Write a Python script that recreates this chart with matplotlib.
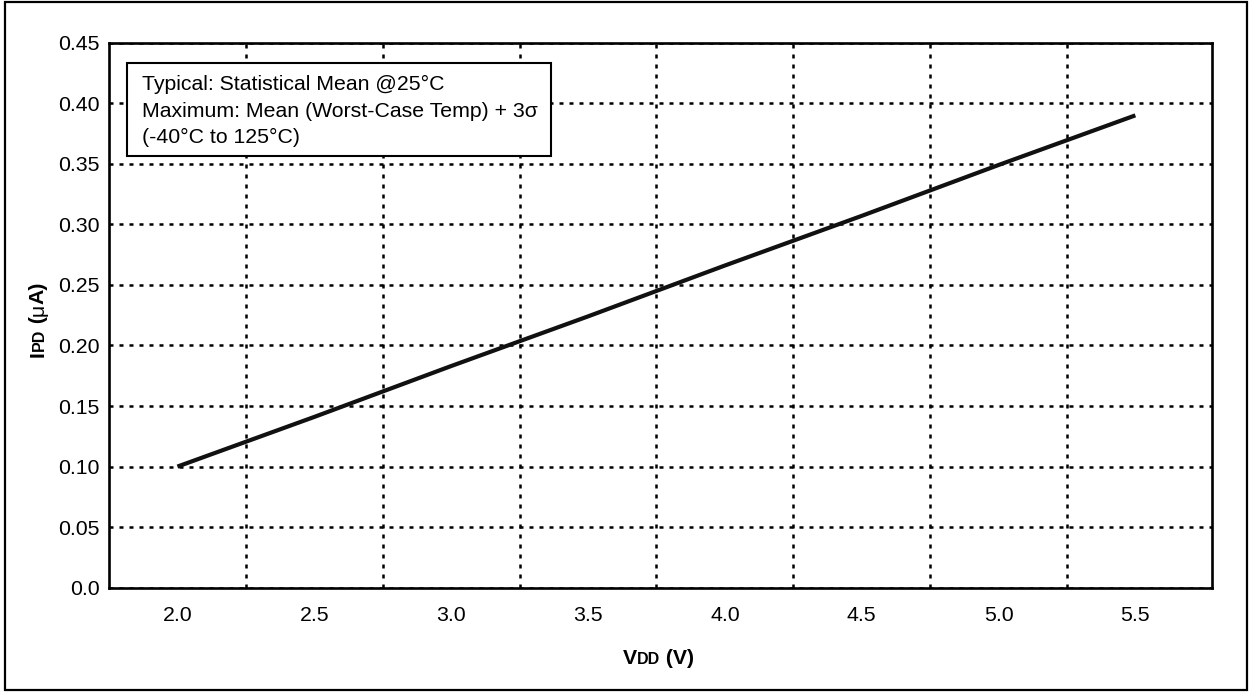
import matplotlib
matplotlib.use('Agg')
import matplotlib.pyplot as plt
from matplotlib.patches import Rectangle

plt.rcParams['font.family'] = ['Liberation Sans', 'DejaVu Sans']

# data
vdd = [2.0, 2.5, 3.0, 3.5, 4.0, 4.5, 5.0, 5.5]
ipd = [0.100, 0.141, 0.183, 0.224, 0.266, 0.307, 0.349, 0.390]
xtick_vals = [2.0, 2.5, 3.0, 3.5, 4.0, 4.5, 5.0, 5.5]
xgrid_vals = [2.25, 2.75, 3.25, 3.75, 4.25, 4.75, 5.25]
ytick_vals = [0.0, 0.05, 0.10, 0.15, 0.20, 0.25, 0.30, 0.35, 0.40, 0.45]
ytick_labels = ["0.0", "0.05", "0.10", "0.15", "0.20", "0.25", "0.30", "0.35", "0.40", "0.45"]
note_lines = ["Typical: Statistical Mean @25°C",
              "Maximum: Mean (Worst-Case Temp) + 3σ",
              "(-40°C to 125°C)"]

FS = 15.3
W, H = 1250, 692
fig = plt.figure(figsize=(W / 100, H / 100), dpi=100)
ax = fig.add_axes([109 / W, 1 - 587.7 / H, (1212 - 109) / W, (587.7 - 42.7) / H])

ax.plot(vdd, ipd, color='#111111', lw=3, solid_capstyle='butt', zorder=3)

ax.set_xlim(1.75, 5.78)
ax.set_ylim(0, 0.45)
ax.set_xticks(xtick_vals)
ax.set_xticklabels(["%.1f" % v for v in xtick_vals])
ax.set_xticks(xgrid_vals, minor=True)
ax.set_yticks(ytick_vals)
ax.set_yticklabels(ytick_labels)
ax.tick_params(axis='both', which='both', length=0, labelsize=FS, colors='black')
ax.tick_params(axis='x', pad=13.5)
ax.tick_params(axis='y', pad=7)

dots = (0, (1.6, 2.4))
ax.grid(False)
ax.xaxis.grid(True, which='minor', color='black', lw=1.8, linestyle=dots)
ax.yaxis.grid(True, which='major', color='black', lw=1.8, linestyle=dots)
ax.set_axisbelow(True)
for s in ax.spines.values():
    s.set_linewidth(1.9)
    s.set_color('black')

# note box
fig.patches.append(Rectangle((127 / W, 1 - 156 / H), (551 - 127) / W, (156 - 62.7) / H,
                             transform=fig.transFigure, fill=True, facecolor='white',
                             edgecolor='black', lw=1.5, zorder=5))
for i, line in enumerate(note_lines):
    fig.text(141.7 / W, 1 - (90 + i * 26.7) / H, line, fontsize=FS,
             ha='left', va='baseline', zorder=6)


def chain(pieces, x, y, rotation=0):
    # pieces drawn one after the other, sharing one baseline (figure pixels)
    prev = None
    for txt, size, weight in pieces:
        if prev is None:
            prev = ax.annotate(txt, xy=(x, y), xycoords='figure pixels', fontsize=size,
                               fontweight=weight, ha='left', va='baseline',
                               rotation=rotation, rotation_mode='anchor',
                               annotation_clip=False)
        elif rotation == 0:
            prev = ax.annotate(txt, xy=(1, y), xycoords=(prev, 'figure pixels'),
                               fontsize=size, fontweight=weight, ha='left',
                               va='baseline', annotation_clip=False)
        else:
            prev = ax.annotate(txt, xy=(x, 1), xycoords=('figure pixels', prev),
                               fontsize=size, fontweight=weight, ha='left',
                               va='baseline', rotation=rotation,
                               rotation_mode='anchor', annotation_clip=False)


chain([("V", FS, 'bold'), ("DD", 11.5, 'bold'), (" (V)", FS, 'bold')], 623, H - 664.3)
chain([("I", FS, 'bold'), ("PD", 11.5, 'bold'), (" (", FS, 'bold'),
       ("μ", FS, 'normal'), ("A)", FS, 'bold')], 43.5, H - 357, rotation=90)

# outer frame
fig.patches.append(Rectangle((4.5 / W, 1 - 690 / H), (1246.7 - 4.5) / W, (690 - 1.5) / H,
                             transform=fig.transFigure, fill=False,
                             edgecolor='black', lw=1.6))

fig.savefig("out.png", dpi=100)
